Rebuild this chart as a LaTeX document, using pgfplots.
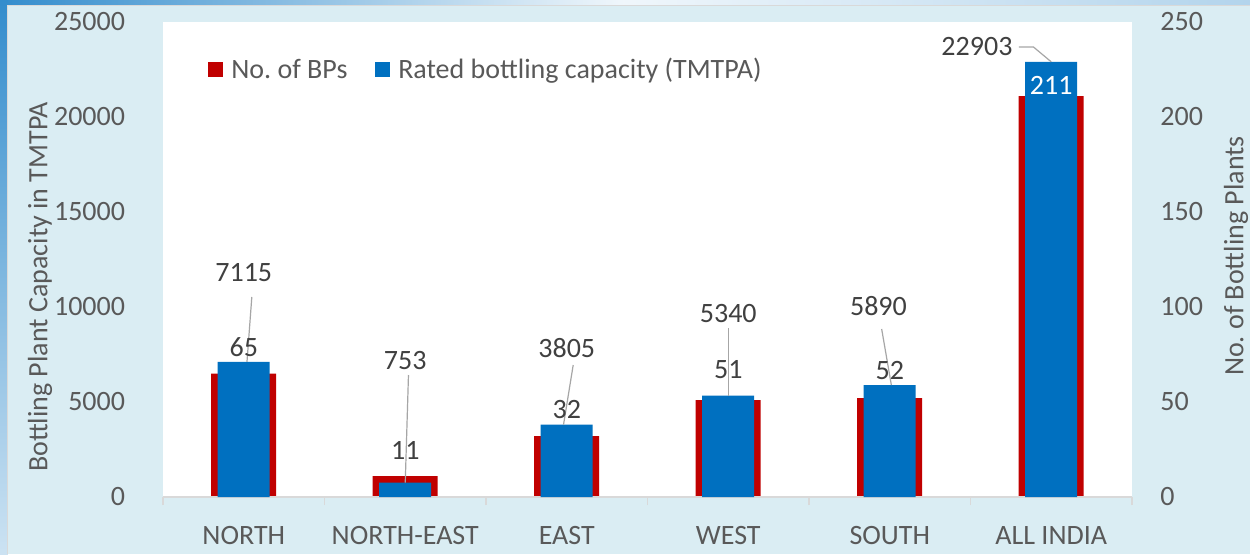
\documentclass[border=0pt]{standalone}
\usepackage{fontspec}
\setmainfont{Carlito}
\usepackage{pgfplots}
\pgfplotsset{compat=1.18}
\frenchspacing
\definecolor{bgc}{HTML}{DAEDF3}
\definecolor{redbar}{HTML}{C00000}
\definecolor{bluebar}{HTML}{0070C0}
\definecolor{txt}{HTML}{595959}
\definecolor{lbl}{HTML}{404040}
\definecolor{lead}{HTML}{A6A6A6}
\definecolor{axl}{HTML}{D9D9D9}
\newcommand\ff{\fontsize{14}{17}\selectfont}
\begin{document}
\frenchspacing
\begin{tikzpicture}[font=\ff]
\path[use as bounding box] (-81.5pt,-28.5pt) rectangle (543.5pt,248.5pt);
\shade[left color=bluebar!80, right color=white!80!bluebar!30] (-81.5pt,246pt) rectangle (230pt,248.5pt);
\shade[left color=white!80!bluebar!30, right color=bluebar!30] (230pt,246pt) rectangle (543.5pt,248.5pt);
\shade[top color=bluebar!80, bottom color=bluebar!20] (-81.5pt,-28.5pt) rectangle (-77.5pt,248.5pt);
\fill[bgc] (-77.5pt,-28.5pt) rectangle (543.5pt,246pt);
\draw[black!15, line width=0.5pt] (-77.5pt,-28.5pt) -- (-77.5pt,246pt) -- (543.5pt,246pt);

% secondary axis: number of BPs (red)
\begin{axis}[
  at={(0pt,0pt)}, anchor=south west,
  scale only axis, width=484.5pt, height=237.5pt,
  xmin=-0.5, xmax=5.5, ymin=0, ymax=250,
  axis background/.style={fill=white},
  axis x line=none,
  axis y line*=right,
  y axis line style={draw=none},
  ytick={0,50,100,150,200,250},
  major y tick style={draw=none},
  yticklabel style={anchor=west, inner sep=0pt, xshift=14pt, text=txt, font=\ff},
  /pgf/number format/assume math mode=true,
  clip=false,
]
\addplot[ybar, bar width=32.5pt, fill=redbar, draw=none] coordinates {
  (0,65) (1,11) (2,32) (3,51) (4,52) (5,211)
};
\end{axis}

% primary axis: capacity (blue)
\begin{axis}[
  at={(0pt,0pt)}, anchor=south west,
  scale only axis, width=484.5pt, height=237.5pt,
  xmin=-0.5, xmax=5.5, ymin=0, ymax=25000,
  axis x line*=bottom,
  axis y line*=left,
  y axis line style={draw=none},
  x axis line style={draw=axl, line width=0.8pt},
  ytick={0,5000,10000,15000,20000,25000},
  scaled y ticks=false,
  /pgf/number format/1000 sep={},
  /pgf/number format/assume math mode=true,
  major y tick style={draw=none},
  yticklabel style={anchor=east, inner sep=0pt, xshift=-14.5pt, text=txt, font=\ff},
  xtick={0,1,2,3,4,5},
  xticklabels={NORTH,NORTH-EAST,EAST,WEST,SOUTH,ALL INDIA},
  major x tick style={draw=none},
  minor xtick={-0.5,0.5,1.5,2.5,3.5,4.5,5.5},
  minor x tick style={draw=axl, line width=0.8pt},
  tick align=outside,
  minor tick length=4pt,
  xticklabel style={anchor=base, inner sep=0pt, yshift=-19.5pt, text=txt, font=\ff},
  legend style={at={(0.046,0.899)}, anchor=west, draw=none, fill=none,
    inner sep=0pt, text=txt, font=\ff,
    legend columns=2,
    /tikz/every even column/.append style={column sep=10.5pt},
    nodes={inner sep=3.2pt}},
  legend image code/.code={\fill[#1] (0pt,-3.75pt) rectangle (7.5pt,3.75pt); \path (8.5pt,0pt);},
  clip=false,
]
\addlegendimage{fill=redbar, draw=none}
\addlegendentry{No. of BPs}
\addplot[ybar, bar width=26pt, fill=bluebar, draw=none] coordinates {
  (0,7115) (1,753) (2,3805) (3,5340) (4,5890) (5,22903)
};
\addlegendentry{Rated bottling capacity (TMTPA)}

% leader lines
\draw[lead, line width=0.6pt] (axis cs:0.05,10526) -- (axis cs:0.02,7115);
\draw[lead, line width=0.6pt] (axis cs:1.02,6421) -- (axis cs:1.0,753);
\draw[lead, line width=0.6pt] (axis cs:2.04,6947) -- (axis cs:1.98,3805);
\draw[lead, line width=0.6pt] (axis cs:3.0,8895) -- (axis cs:3.0,5340);
\draw[lead, line width=0.6pt] (axis cs:3.95,8842) -- (axis cs:4.01,5890);
\draw[lead, line width=0.6pt] (axis cs:4.80,23684) -- (axis cs:4.89,23684) -- (axis cs:5.0,22903);

% capacity labels
\node[text=lbl] at (axis cs:0,11789) {7115};
\node[text=lbl] at (axis cs:1,7210) {753};
\node[text=lbl] at (axis cs:2,7842) {3805};
\node[text=lbl] at (axis cs:3,9684) {5340};
\node[text=lbl] at (axis cs:3.93,10053) {5890};
\node[text=lbl] at (axis cs:4.54,23684) {22903};

% BP count labels
\node[text=lbl] at (axis cs:0,7895) {65};
\node[text=lbl] at (axis cs:1,2474) {11};
\node[text=lbl] at (axis cs:2,4579) {32};
\node[text=lbl] at (axis cs:3,6684) {51};
\node[text=lbl] at (axis cs:4,6684) {52};
\node[text=white] at (axis cs:5,21684) {211};
\end{axis}

% axis titles
\node[rotate=90, text=txt] at (-61.5pt,105pt) {Bottling Plant Capacity in TMTPA};
\node[rotate=90, text=txt] at (536.5pt,120.5pt) {No. of Bottling Plants};
\end{tikzpicture}
\end{document}
